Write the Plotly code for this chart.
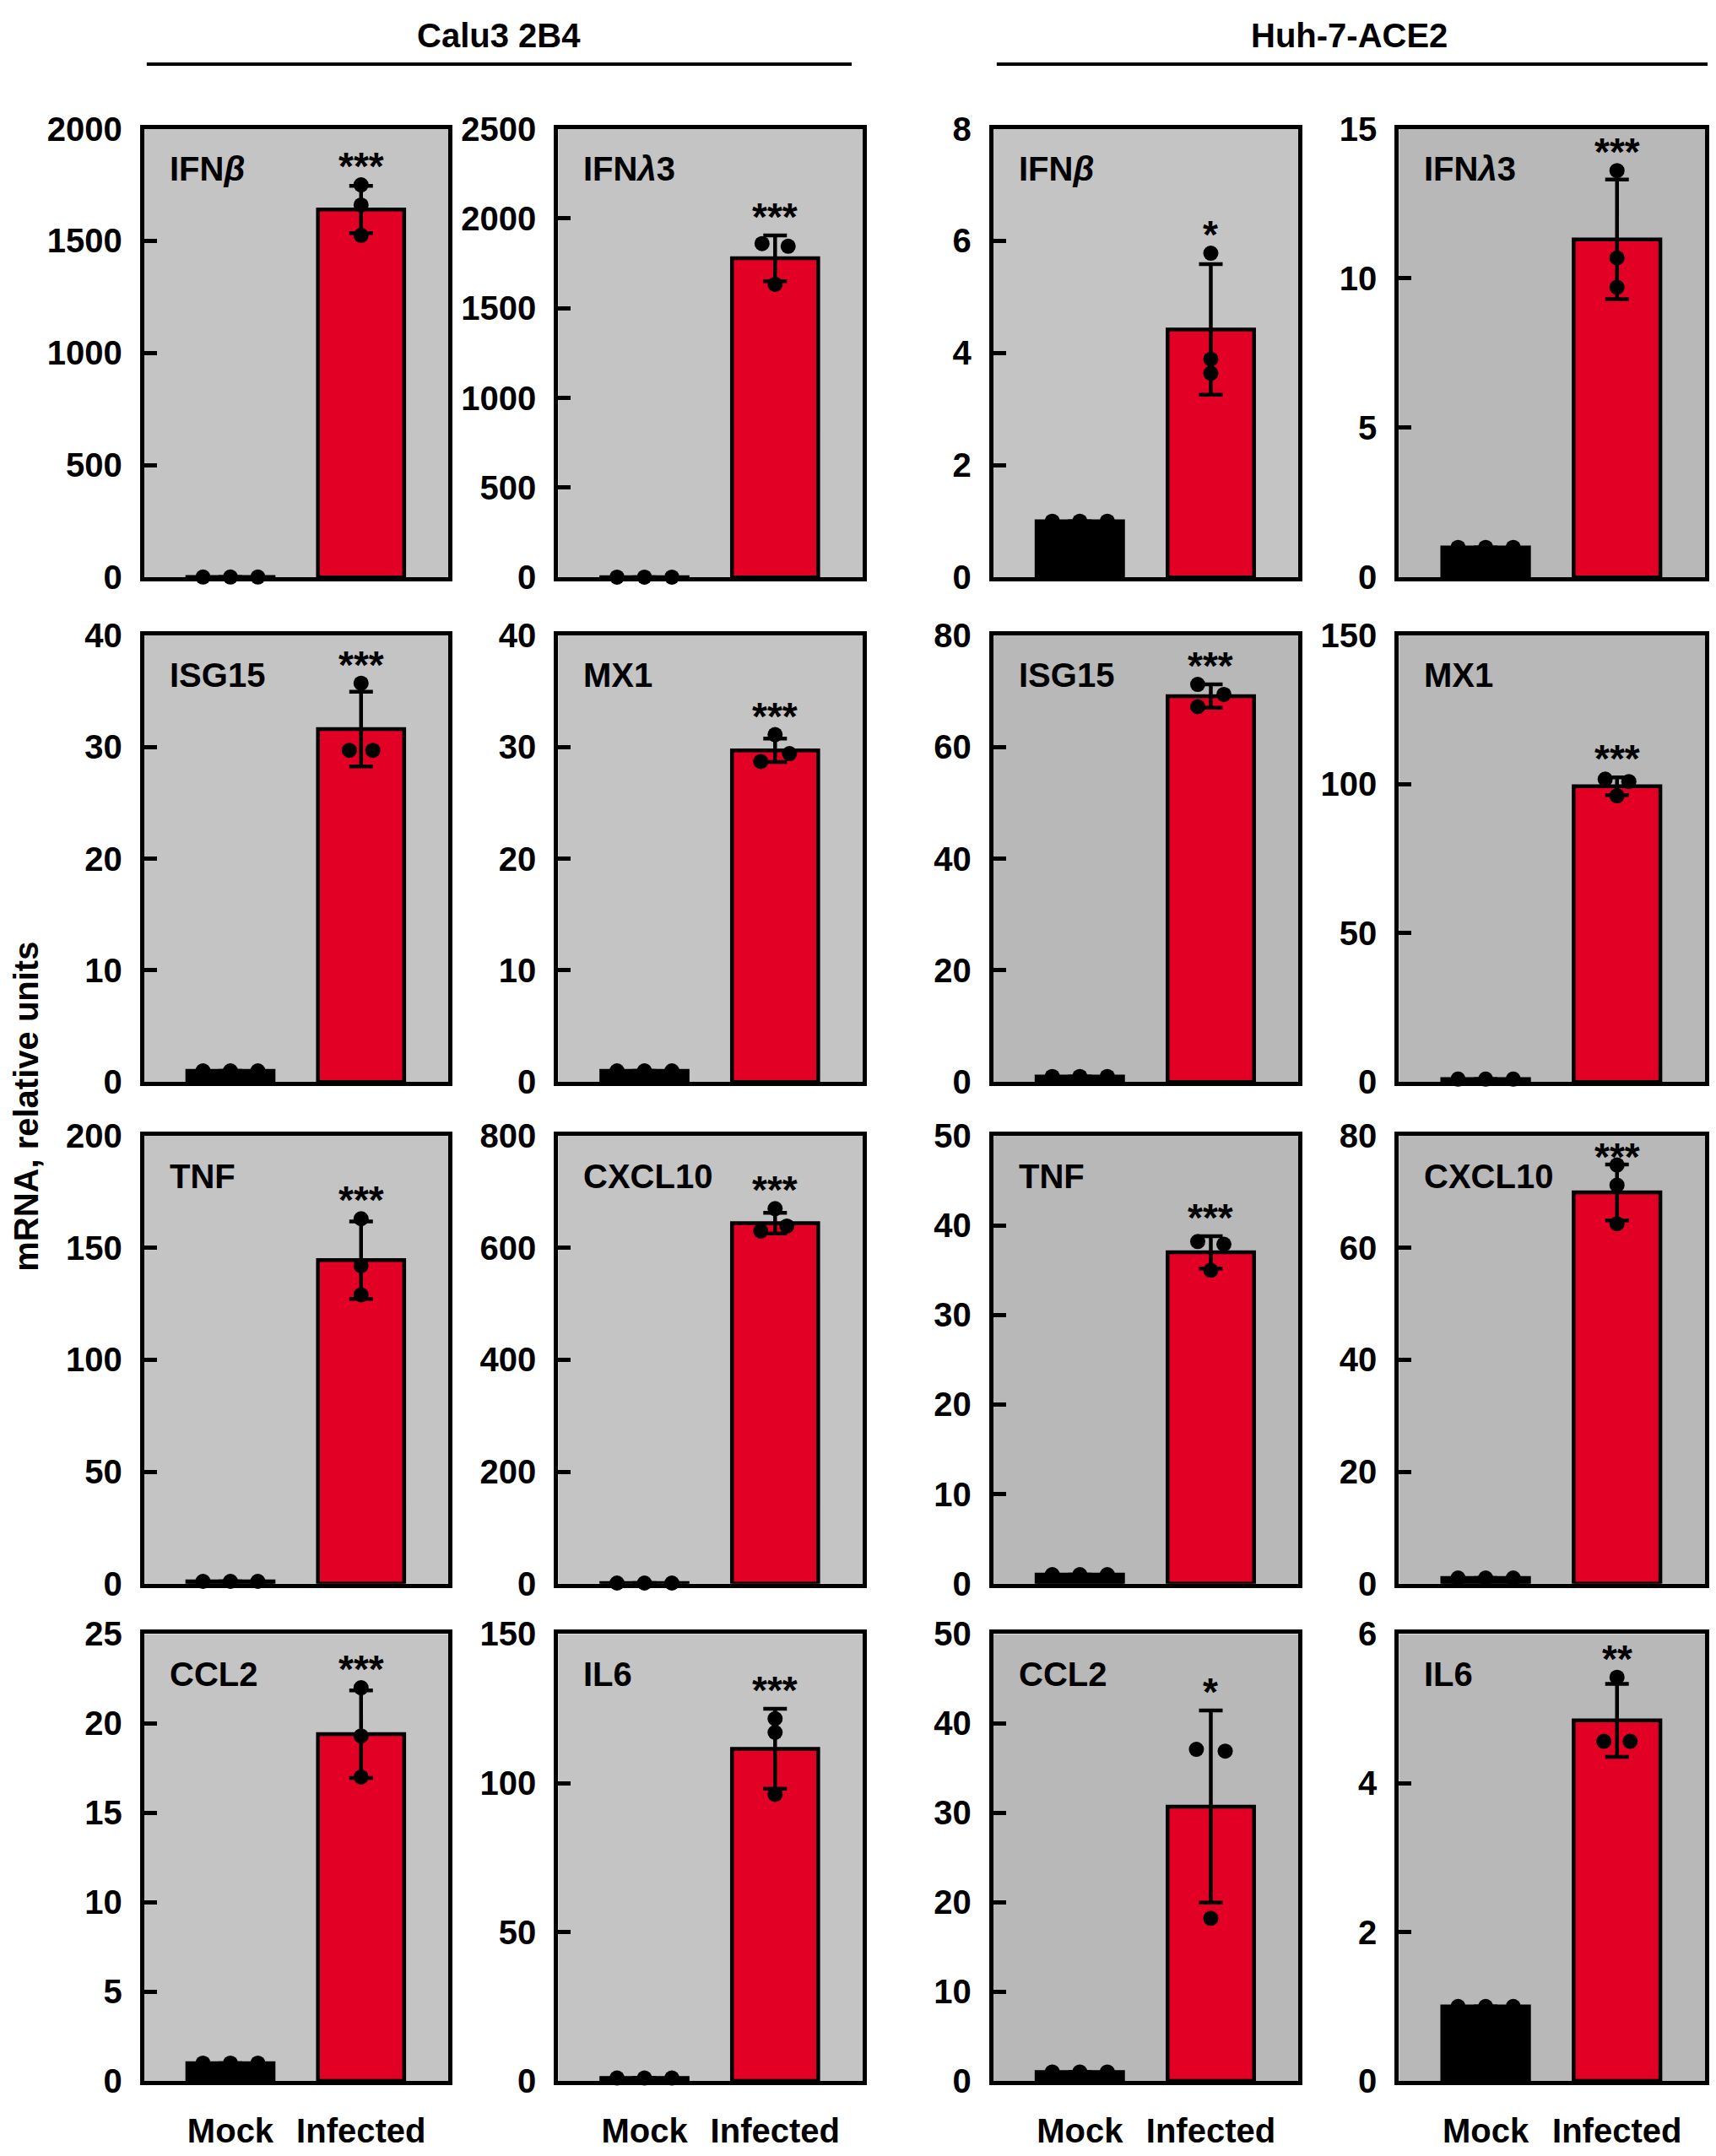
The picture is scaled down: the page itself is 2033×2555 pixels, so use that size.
import plotly.graph_objects as go

# gene panels, left to right and top to bottom within each cell line
genes = ["IFN<i>β</i>", "IFN<i>λ</i>3", "ISG15", "MX1", "TNF", "CXCL10", "CCL2", "IL6"]
cell_lines = ["Calu3 2B4", "Huh-7-ACE2"]
groups = ["Mock", "Infected"]

# Calu3 2B4
calu3_mock_mean = [1, 1, 1, 1, 1, 1, 1, 1]
calu3_mock_pts = [[1, 1, 1]] * 8
calu3_inf_mean = [1640, 1778, 31.6, 29.7, 144.5, 644, 19.4, 111.5]
calu3_inf_sd = [105, 128, 3.35, 1.05, 17.3, 18.5, 2.45, 13.4]
calu3_inf_pts = [[1750, 1660, 1525], [1860, 1845, 1633], [35.7, 29.7, 29.7], [31.1, 29.4, 28.7],
                 [163, 142, 129], [670, 639, 630], [22.0, 19.3, 17.0], [121.6, 117, 96.2]]
calu3_sig = ["***", "***", "***", "***", "***", "***", "***", "***"]
calu3_ymax = [2000, 2500, 40, 40, 200, 800, 25, 150]
calu3_dtick = [500, 500, 10, 10, 50, 200, 5, 50]

# Huh-7-ACE2
huh_mock_mean = [1, 1, 1, 1, 1, 1, 1, 1]
huh_mock_pts = [[1, 1, 1]] * 8
huh_inf_mean = [4.42, 11.3, 69.1, 99.3, 37.0, 69.9, 30.7, 4.84]
huh_inf_sd = [1.165, 2.0, 2.1, 3.0, 1.8, 5.0, 10.75, 0.49]
huh_inf_pts = [[5.78, 3.89, 3.64], [13.6, 10.68, 9.70], [71.2, 69.4, 67.2], [101.7, 100.9, 96.1],
               [38.2, 37.9, 35.0], [74.8, 71.2, 64.3], [37.1, 36.9, 18.2], [5.42, 4.56, 4.56]]
huh_sig = ["*", "***", "***", "***", "***", "***", "*", "**"]
huh_ymax = [8, 15, 80, 150, 50, 80, 50, 6]
huh_dtick = [2, 5, 20, 50, 10, 20, 10, 2]

# horizontal scatter of the dots around each bar
mock_jit = [-0.21, 0, 0.21]
inf_jit = [
    [[0, 0, 0], [-0.1, 0.1, 0], [0, -0.09, 0.09], [0, 0.11, -0.11],
     [0, 0, 0], [0, 0.09, -0.11], [0, 0, 0], [0, 0, 0]],
    [[0, 0, 0], [0, 0, 0], [-0.1, 0.1, -0.1], [-0.09, 0.09, 0],
     [-0.1, 0.1, 0], [0, 0, 0], [-0.11, 0.11, 0], [0, -0.1, 0.1]],
]

data = [
    (calu3_mock_mean, calu3_mock_pts, calu3_inf_mean, calu3_inf_sd, calu3_inf_pts, calu3_sig, calu3_ymax, calu3_dtick),
    (huh_mock_mean, huh_mock_pts, huh_inf_mean, huh_inf_sd, huh_inf_pts, huh_sig, huh_ymax, huh_dtick),
]

# the page body has an 8px margin, so lay out in page pixels and shift
OFF = 8
W, H = 2033 - 2 * OFF, 2555 - 2 * OFF
cols_px = [(171, 532), (662, 1023), (1178, 1540), (1659, 2022)]
rows_px = [(133, 675), (745, 1285), (1350, 1891), (1952, 2492)]
RED = "#e30025"
FONT = "Liberation Sans, Arial, sans-serif"


def px(x):
    return (x - OFF) / W


def py(y):
    return 1 - (y - OFF) / H


fig = go.Figure()
layout = {}
shapes = []
annotations = []

for c, (m_mean, m_pts, i_mean, i_sd, i_pts, sig, ymax, dtick) in enumerate(data):
    for g in range(8):
        row = g // 2
        col = c * 2 + g % 2
        k = row * 4 + col + 1
        xa = "x" if k == 1 else f"x{k}"
        ya = "y" if k == 1 else f"y{k}"

        fig.add_trace(go.Bar(
            x=[0, 1], y=[m_mean[g], i_mean[g]],
            width=0.66,
            marker=dict(color=["black", RED], line=dict(color="black", width=4.5)),
            error_y=dict(type="data", array=[None, i_sd[g]], color="black", thickness=4.5, width=14),
            xaxis=xa, yaxis=ya, showlegend=False,
        ))
        xs = [j for j in mock_jit] + [1 + j for j in inf_jit[c][g]]
        ys = list(m_pts[g]) + list(i_pts[g])
        fig.add_trace(go.Scatter(
            x=xs, y=ys, mode="markers",
            marker=dict(color="black", size=18),
            cliponaxis=False, xaxis=xa, yaxis=ya, showlegend=False,
        ))

        x0, x1 = cols_px[col]
        y0, y1 = rows_px[row]
        bottom = row == 3
        layout["xaxis" if k == 1 else f"xaxis{k}"] = dict(
            domain=[px(x0), px(x1)], anchor=ya, range=[-0.66, 1.67],
            showline=True, mirror=True, linecolor="black", linewidth=5,
            showgrid=False, zeroline=False, ticks="",
            tickvals=[0, 1], ticktext=groups, showticklabels=bottom,
            tickfont=dict(family=FONT, size=40, color="black", weight="bold"),
            ticklabelstandoff=20,
        )
        layout["yaxis" if k == 1 else f"yaxis{k}"] = dict(
            domain=[py(y1), py(y0)], anchor=xa, range=[0, ymax[g]], dtick=dtick[g],
            showline=True, mirror=True, linecolor="black", linewidth=5,
            showgrid=False, zeroline=False,
            ticks="inside", ticklen=15, tickwidth=5, tickcolor="black",
            tickfont=dict(family=FONT, size=40, color="black", weight="bold"),
            ticklabelstandoff=13,
        )

        bg = "#c4c4c4" if (c == 0 or g == 0) else "#b8b8b8"
        shapes.append(dict(type="rect", xref=f"{xa} domain", yref=f"{ya} domain",
                           x0=0, x1=1, y0=0, y1=1, fillcolor=bg, line_width=0, layer="below"))

        annotations.append(dict(text=genes[g], xref=f"{xa} domain", yref=f"{ya} domain",
                                x=0.077, y=0.91, xanchor="left", yanchor="middle", showarrow=False,
                                font=dict(family=FONT, size=40, color="black", weight="bold")))
        # significance stars sit above the highest mark, or tuck under the frame
        top = max(max(i_pts[g]), i_mean[g] + i_sd[g])
        star_font = dict(family=FONT, size=46, color="black", weight="bold")
        if top / ymax[g] > 0.92:
            annotations.append(dict(text=sig[g], xref=xa, yref=ya, x=1, y=ymax[g],
                                    xanchor="center", yanchor="top", yshift=3, showarrow=False,
                                    font=star_font))
        else:
            annotations.append(dict(text=sig[g], xref=xa, yref=ya, x=1, y=top,
                                    xanchor="center", yanchor="bottom", yshift=-6, showarrow=False,
                                    font=star_font))

# cell line headers with rules
for name, cx, lx0, lx1 in [(cell_lines[0], 592, 174, 1010), (cell_lines[1], 1600, 1182, 2025)]:
    annotations.append(dict(text=name, xref="paper", yref="paper", x=px(cx), y=py(20),
                            xanchor="center", yanchor="middle", showarrow=False,
                            font=dict(family=FONT, size=40, color="black", weight="bold")))
    shapes.append(dict(type="line", xref="paper", yref="paper", x0=px(lx0), x1=px(lx1),
                       y0=py(55), y1=py(55), line=dict(color="black", width=4)))

annotations.append(dict(text="mRNA, relative units", xref="paper", yref="paper",
                        x=px(31), y=py(1314), textangle=-90,
                        xanchor="center", yanchor="middle", showarrow=False,
                        font=dict(family=FONT, size=40, color="black", weight="bold")))

fig.update_layout(
    width=W, height=H,
    margin=dict(l=0, r=0, t=0, b=0),
    paper_bgcolor="white", plot_bgcolor="white",
    barmode="overlay", showlegend=False,
    shapes=shapes, annotations=annotations,
    **layout,
)

fig.write_html("out.html")
